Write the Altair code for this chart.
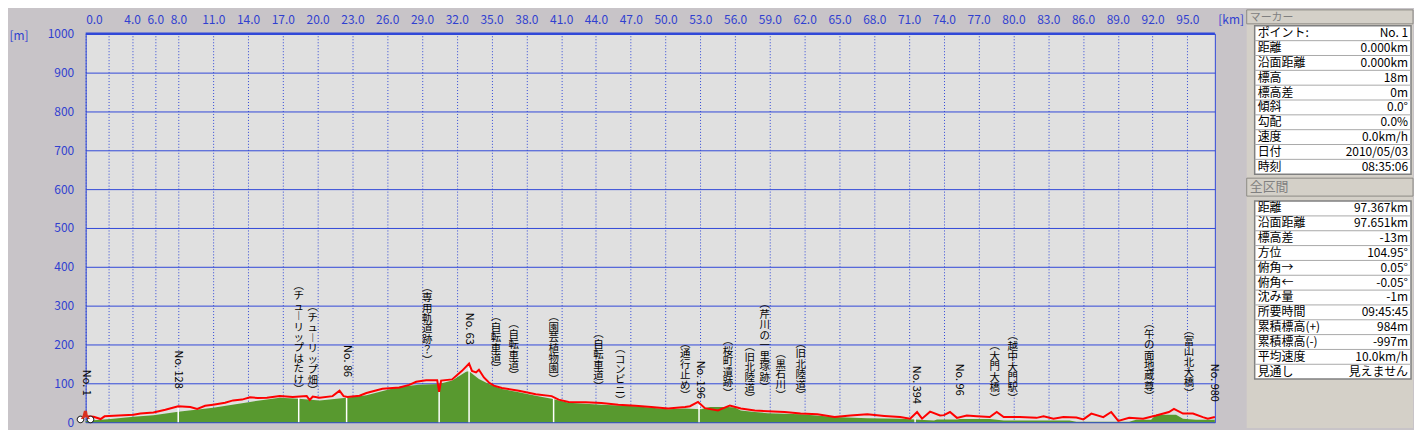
import altair as alt
import pandas as pd

FONT = "Noto Sans CJK JP"
BLUE = "#3048d8"
LABEL_BLUE = "#3040d0"
PAGE_BG = "#c8c4c8"
PLOT_BG = "#e0e0e0"
PANEL_BG = "#d4d0c8"
GREEN = "#58992f"
RED = "#ff0000"

# ---------------- data ----------------
track_km = [0.0, 0.69, 1.29, 1.63, 2.83, 4.12, 4.72, 5.84, 6.87, 7.98, 9.02, 9.62, 10.3, 10.99,
            12.02, 12.71, 13.48, 14.17, 14.85, 15.63, 16.74, 17.86, 18.46, 19.06, 19.32, 19.58,
            20.18, 21.29, 21.89, 22.24, 22.58, 23.61, 24.21, 25.59, 27.05, 27.9, 28.5, 29.36,
            30.31, 30.48, 30.65, 31.6, 32.45, 33.06, 33.31, 33.66, 33.91, 34.34, 34.77, 35.2,
            35.89, 37.35, 38.81, 40.18, 40.78, 41.64, 43.1, 44.47, 45.93, 47.39, 48.77, 50.23,
            51.69, 52.11, 52.8, 53.4, 54.52, 55.55, 56.49, 57.7, 58.81, 60.27, 61.65, 63.1,
            64.57, 65.94, 67.4, 68.86, 70.23, 71.09, 71.69, 72.12, 72.81, 73.67, 74.01, 74.53,
            75.13, 75.98, 76.84, 77.96, 78.56, 79.16, 80.54, 81.99, 82.6, 83.45, 84.31, 85.43,
            86.03, 86.72, 87.75, 88.43, 89.04, 89.98, 91.18, 92.3, 93.41, 93.84, 94.62, 95.48,
            96.33, 96.76, 97.367]
track_m = [15, 14, 8, 15, 17, 19, 22, 25, 32, 41, 39, 34, 42, 45, 50, 56, 58, 64, 62, 63, 67, 65,
           66, 67, 57, 66, 63, 67, 81, 67, 65, 68, 75, 86, 89, 96, 104, 108, 108, 78, 107, 110,
           132, 151, 132, 128, 135, 115, 102, 94, 88, 81, 72, 67, 58, 52, 51, 49, 45, 42, 39, 35,
           39, 41, 52, 36, 30, 43, 35, 30, 28, 26, 22, 20, 13, 17, 20, 16, 13, 9, 26, 9, 27, 17,
           18, 26, 11, 17, 15, 13, 26, 13, 13, 11, 15, 9, 13, 12, 7, 22, 13, 26, 3, 11, 9, 17,
           26, 34, 22, 22, 13, 9, 13]

ground_km = [0.0, 0.69, 2.15, 4.12, 5.84, 7.98, 10.99, 14.17, 16.74, 18.37, 20.18, 22.5, 24.21,
             27.05, 28.76, 30.48, 31.6, 32.8, 33.06, 33.91, 34.77, 35.89, 37.35, 38.81, 40.18,
             41.64, 44.47, 47.39, 50.23, 51.69, 53.06, 53.83, 55.38, 55.98, 56.49, 57.7, 58.81,
             61.65, 64.57, 67.4, 70.23, 73.15, 73.41, 75.13, 75.39, 77.96, 79.16, 84.83, 85.43,
             89.98, 90.58, 91.87, 92.3, 94.02, 94.62, 95.73, 97.367]
ground_m = [3, 5, 8, 14, 18, 27, 37, 52, 63, 60, 56, 63, 69, 91, 96, 98, 107, 130, 131, 111, 98,
            85, 77, 68, 60, 50, 45, 41, 33, 35, 33, 39, 39, 38, 30, 26, 23, 20, 13, 10, 9, 4, 7,
            7, 8, 8, 4, 4, 1, 1, 6, 6, 19, 19, 9, 6, 6]

waypoint_km = [7.98, 18.37, 22.5, 30.48, 33.06, 40.35, 52.89, 71.52]
waypoint_top_m = [38, 63, 66, 78, 140, 60, 45, 10]

# waypoint numbers: rotated text, position = foot of the text
no_text_list = ["No. 1", "No. 128", "No. 86", "No. 63", "No. 196", "No. 394", "No. 96", "No. 980"]
no_km = [0.0, 7.98, 22.5, 33.06, 52.97, 71.6, 75.3, 97.3]
no_foot_m = [68, 86, 116, 199, 60, 47, 68, 52]

# place names: vertical text, position = head of the text
jp_text_list = ["(チューリップはたけ)", "(チューリップ畑)", "(専用軌道跡?)", "(自転車道)",
                "(自転車道)", "(園芸植物園)", "(自転車道)", "(コンビニ)", "(通行止め)",
                "(桜町遺跡)", "(旧北陸道)", "(芹川の一里塚跡)", "(黒石川)", "(旧北陸道)",
                "(大門大橋)", "(越中大門駅)", "(午の面地蔵尊)", "(富山北大橋)"]
jp_km = [18.37, 19.58, 29.45, 35.37, 36.92, 40.35, 44.22, 46.1, 51.69, 55.38, 57.27, 58.56,
         59.93, 61.65, 78.39, 79.94, 91.7, 95.13]
jp_head_m = [364, 308, 359, 283, 265, 283, 239, 201, 214, 221, 206, 316, 188, 214, 208, 234,
             265, 247]

marker_km = [0.0]
marker_m = [18]

x_ticks = [0, 2, 4, 6, 8] + list(range(11, 96, 3))
y_ticks = list(range(0, 1001, 100))
total_km = 97.367

marker_labels = ["ポイント:", "距離", "沿面距離", "標高", "標高差", "傾斜", "勾配", "速度", "日付", "時刻"]
marker_values = ["No. 1", "0.000km", "0.000km", "18m", "0m", "0.0°", "0.0%", "0.0km/h",
                 "2010/05/03", "08:35:06"]
total_labels = ["距離", "沿面距離", "標高差", "方位", "俯角→", "俯角←", "沈み量", "所要時間",
                "累積標高(+)", "累積標高(-)", "平均速度", "見通し"]
total_values = ["97.367km", "97.651km", "-13m", "104.95°", "0.05°", "-0.05°", "-1m",
                "09:45:45", "984m", "-997m", "10.0km/h", "見えません"]

# ---------------- main profile ----------------
W, H = 1134, 390

track = pd.DataFrame({"km": track_km, "m": track_m})
ground = pd.DataFrame({"km": ground_km, "m": ground_m})
wps = pd.DataFrame({"km": waypoint_km, "m": [0] * len(waypoint_km), "top": waypoint_top_m})


def vertical(s):
    rep = {"(": "︵", ")": "︶", "ー": "︱", "?": "？"}
    return "\n".join(rep.get(c, c) for c in s)


no_labels = pd.DataFrame({"km": no_km, "m": no_foot_m, "text": no_text_list})
jp_labels = pd.DataFrame({"km": jp_km, "m": jp_head_m,
                          "vtext": [vertical(t) for t in jp_text_list]})

xs = alt.Scale(domain=[0, total_km], nice=False, zero=False)
ys = alt.Scale(domain=[0, 1000], nice=False, zero=True)

x_axis = alt.Axis(
    orient="top", values=x_ticks,
    labelExpr="datum.value == 2 ? '' : format(datum.value, '.1f')",
    grid=True, gridDash=[1, 2], gridColor=BLUE, gridWidth=1,
    ticks=False, domain=False, labelPadding=7.5, labelColor=LABEL_BLUE, labelFont=FONT,
    labelFontSize=12, labelOverlap=False,
    title="[km]", titleX=W + 3, titleY=-7.5, titleAlign="left", titleBaseline="bottom",
    titleAngle=0, titleColor=LABEL_BLUE, titleFont=FONT, titleFontSize=12,
    titleFontWeight="normal")
y_axis = alt.Axis(
    values=y_ticks, format="d", grid=True, gridColor=BLUE, gridWidth=1, ticks=False,
    domain=False, labelPadding=12, labelColor=LABEL_BLUE, labelFont=FONT, labelFontSize=12,
    labelFlush=False, labelOverlap=False,
    title="[m]", titleX=-77, titleY=2, titleAngle=0, titleAlign="left", titleBaseline="middle",
    titleColor=LABEL_BLUE, titleFont=FONT, titleFontSize=12, titleFontWeight="normal")

X = alt.X("km:Q", scale=xs, axis=x_axis)
Y = alt.Y("m:Q", scale=ys, axis=y_axis)

area = alt.Chart(ground).mark_area(color=GREEN, interpolate="linear").encode(x=X, y=Y)
wp_rules = alt.Chart(wps).mark_rule(color="white", strokeWidth=1.5).encode(
    x=X, y=Y, y2="top:Q")
line = alt.Chart(track).mark_line(color=RED, strokeWidth=2).encode(x=X, y=Y)

top_border = alt.Chart(pd.DataFrame({"km": [0.0], "km2": [total_km], "m": [1000]})).mark_rule(
    color=BLUE, strokeWidth=2.5).encode(x=X, x2="km2:Q", y=Y)

jp_text = alt.Chart(jp_labels).mark_text(
    lineBreak="\n", lineHeight=10.5, align="center", baseline="top", font=FONT,
    fontSize=10.5, color="black").encode(x=X, y=Y, text="vtext:N")
no_text = alt.Chart(no_labels).mark_text(
    angle=90, align="right", baseline="middle", font=FONT, fontSize=11,
    color="black").encode(x=X, y=Y, text="text:N")

marker = pd.DataFrame({"km": marker_km, "m": marker_m})
wheels_path = ("M-0.98,0.5 A0.38,0.38 0 1,0 -0.22,0.5 A0.38,0.38 0 1,0 -0.98,0.5 Z "
               "M0.18,0.5 A0.38,0.38 0 1,0 0.94,0.5 A0.38,0.38 0 1,0 0.18,0.5 Z")
rider_path = ("M-0.55,0.45 L-0.35,0.05 L-0.2,-0.5 L0.15,-0.5 L0.25,0.05 L0.5,0.45 "
              "L0.3,0.45 L0.05,0.2 L-0.35,0.45 Z")
bike_wheels = alt.Chart(marker).mark_point(
    shape=wheels_path, size=300, filled=True, fill="white", stroke="black", strokeWidth=1,
    opacity=1).encode(x=X, y=Y)
bike_rider = alt.Chart(marker).mark_point(
    shape=rider_path, size=300, filled=True, fill="#d83020", strokeWidth=0,
    opacity=1).encode(x=X, y=Y)

main = alt.layer(area, wp_rules, line, top_border, jp_text, no_text, bike_wheels, bike_rider
                 ).properties(width=W, height=H,
                              view=alt.ViewBackground(fill=PLOT_BG, stroke=BLUE, strokeWidth=1))

# ---------------- side panel ----------------
# panel origin is aligned with the top of the plot area; negative values sit above it
PW, PH = 167, 396
ROW = 14.9
TOP = -24
HDR1 = (-24, -10)
T1_TOP = -8
HDR2 = (145, 163)
T2_TOP = 168
TBL_X0, TBL_X1 = 8, PW - 2

bg = pd.DataFrame({"x0": [0], "x1": [PW], "y0": [TOP], "y1": [PH]})

headers = pd.DataFrame({
    "x0": [0, 0], "x1": [PW, PW],
    "y0": [HDR1[0], HDR2[0]], "y1": [HDR1[1], HDR2[1]],
    "tx": [3, 3], "ty": [HDR1[1] - 5.5, (HDR2[0] + HDR2[1]) / 2],
    "text": ["マーカー", "全区間"], "fs": [11, 13]})

tables = pd.DataFrame({
    "x0": [TBL_X0, TBL_X0], "x1": [TBL_X1, TBL_X1],
    "y0": [T1_TOP, T2_TOP],
    "y1": [T1_TOP + ROW * len(marker_labels), T2_TOP + ROW * len(total_labels)]})

rows = []
for top, labs, vals in [(T1_TOP, marker_labels, marker_values),
                        (T2_TOP, total_labels, total_values)]:
    for i, (lab, val) in enumerate(zip(labs, vals)):
        rows.append({"y": top + ROW * (i + 0.5), "sep": top + ROW * (i + 1),
                     "lx": TBL_X0 + 3, "vx": TBL_X1 - 3, "x0": TBL_X0, "x1": TBL_X1,
                     "label": lab, "value": val, "last": i == len(labs) - 1})
rows = pd.DataFrame(rows)
seps = rows[~rows["last"]]

pxs = alt.Scale(domain=[0, PW], nice=False, zero=False)
pys = alt.Scale(domain=[0, PH], nice=False, zero=False, reverse=True)


def PX(f):
    return alt.X(f, scale=pxs, axis=None)


def PY(f):
    return alt.Y(f, scale=pys, axis=None)


bg_rect = alt.Chart(bg).mark_rect(fill=PANEL_BG, strokeWidth=0).encode(
    x=PX("x0:Q"), x2="x1:Q", y=PY("y0:Q"), y2="y1:Q")
hdr_rect = alt.Chart(headers).mark_rect(fill=PANEL_BG, stroke="#8c8a84", strokeWidth=1).encode(
    x=PX("x0:Q"), x2="x1:Q", y=PY("y0:Q"), y2="y1:Q")
hdr_text = alt.Chart(headers).mark_text(align="left", baseline="middle", font=FONT,
                                        color="#808080").encode(
    x=PX("tx:Q"), y=PY("ty:Q"), text="text:N", size=alt.Size("fs:Q", scale=None, legend=None))
tbl_rect = alt.Chart(tables).mark_rect(fill="white", stroke="#808080", strokeWidth=1.5).encode(
    x=PX("x0:Q"), x2="x1:Q", y=PY("y0:Q"), y2="y1:Q")
sep_rule = alt.Chart(seps).mark_rule(color="#a8a8a8", strokeWidth=1).encode(
    x=PX("x0:Q"), x2="x1:Q", y=PY("sep:Q"))
lab_text = alt.Chart(rows).mark_text(align="left", baseline="middle", font=FONT, fontSize=12,
                                     color="black").encode(
    x=PX("lx:Q"), y=PY("y:Q"), text="label:N")
val_text = alt.Chart(rows).mark_text(align="right", baseline="middle", font=FONT, fontSize=12,
                                     color="black").encode(
    x=PX("vx:Q"), y=PY("y:Q"), text="value:N")

panel = alt.layer(bg_rect, hdr_rect, hdr_text, tbl_rect, sep_rule, lab_text, val_text).properties(
    width=PW, height=PH,
    view=alt.ViewBackground(fill="transparent", stroke="transparent", strokeWidth=0))

chart = alt.hconcat(main, panel, spacing=1).properties(
    background=PAGE_BG, padding={"left": 0, "top": 0, "right": 0, "bottom": 0})

chart.save("out.html", embed_options={"renderer": "svg", "actions": False})
